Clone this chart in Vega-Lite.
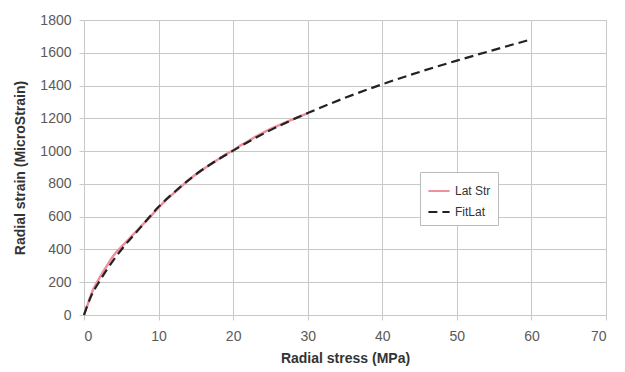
{
  "$schema": "https://vega.github.io/schema/vega-lite/v6.json",
  "width": 522,
  "height": 295,
  "autosize": {"type": "none"},
  "padding": {"left": 84, "top": 20, "right": 19, "bottom": 57},
  "background": "white",
  "datasets": {
    "lat": [
      {"stress": 0, "strain": 0, "series": "Lat Str"},
      {"stress": 0.5, "strain": 65, "series": "Lat Str"},
      {"stress": 1, "strain": 130, "series": "Lat Str"},
      {"stress": 2, "strain": 220, "series": "Lat Str"},
      {"stress": 3, "strain": 295, "series": "Lat Str"},
      {"stress": 4, "strain": 365, "series": "Lat Str"},
      {"stress": 5, "strain": 415, "series": "Lat Str"},
      {"stress": 6, "strain": 462, "series": "Lat Str"},
      {"stress": 7, "strain": 510, "series": "Lat Str"},
      {"stress": 8, "strain": 558, "series": "Lat Str"},
      {"stress": 9, "strain": 605, "series": "Lat Str"},
      {"stress": 10, "strain": 655, "series": "Lat Str"},
      {"stress": 11, "strain": 702, "series": "Lat Str"},
      {"stress": 12, "strain": 742, "series": "Lat Str"},
      {"stress": 13, "strain": 782, "series": "Lat Str"},
      {"stress": 14, "strain": 822, "series": "Lat Str"},
      {"stress": 15, "strain": 858, "series": "Lat Str"},
      {"stress": 16, "strain": 890, "series": "Lat Str"},
      {"stress": 17, "strain": 920, "series": "Lat Str"},
      {"stress": 18, "strain": 950, "series": "Lat Str"},
      {"stress": 19, "strain": 980, "series": "Lat Str"},
      {"stress": 20, "strain": 1005, "series": "Lat Str"},
      {"stress": 21, "strain": 1035, "series": "Lat Str"},
      {"stress": 22, "strain": 1060, "series": "Lat Str"},
      {"stress": 23, "strain": 1088, "series": "Lat Str"},
      {"stress": 24, "strain": 1112, "series": "Lat Str"},
      {"stress": 25, "strain": 1135, "series": "Lat Str"},
      {"stress": 26, "strain": 1155, "series": "Lat Str"},
      {"stress": 27, "strain": 1175, "series": "Lat Str"},
      {"stress": 28, "strain": 1194, "series": "Lat Str"},
      {"stress": 29, "strain": 1213, "series": "Lat Str"},
      {"stress": 30, "strain": 1230, "series": "Lat Str"}
    ],
    "fit": [
      {"stress": 0, "strain": 0, "series": "FitLat"},
      {"stress": 1, "strain": 120, "series": "FitLat"},
      {"stress": 2, "strain": 200, "series": "FitLat"},
      {"stress": 3, "strain": 272, "series": "FitLat"},
      {"stress": 4, "strain": 338, "series": "FitLat"},
      {"stress": 5, "strain": 398, "series": "FitLat"},
      {"stress": 7.5, "strain": 530, "series": "FitLat"},
      {"stress": 10, "strain": 660, "series": "FitLat"},
      {"stress": 12.5, "strain": 765, "series": "FitLat"},
      {"stress": 15, "strain": 858, "series": "FitLat"},
      {"stress": 17.5, "strain": 935, "series": "FitLat"},
      {"stress": 20, "strain": 1003, "series": "FitLat"},
      {"stress": 22.5, "strain": 1068, "series": "FitLat"},
      {"stress": 25, "strain": 1128, "series": "FitLat"},
      {"stress": 27.5, "strain": 1182, "series": "FitLat"},
      {"stress": 30, "strain": 1232, "series": "FitLat"},
      {"stress": 35, "strain": 1325, "series": "FitLat"},
      {"stress": 40, "strain": 1408, "series": "FitLat"},
      {"stress": 45, "strain": 1483, "series": "FitLat"},
      {"stress": 50, "strain": 1552, "series": "FitLat"},
      {"stress": 55, "strain": 1618, "series": "FitLat"},
      {"stress": 60, "strain": 1682, "series": "FitLat"}
    ]
  },
  "config": {
    "font": "Liberation Sans",
    "view": {"stroke": "#c8c8c8", "strokeWidth": 1},
    "axis": {
      "labelFont": "Liberation Sans",
      "labelFontSize": 14,
      "labelColor": "#5a5a5a",
      "labelOverlap": false,
      "titleFont": "Liberation Sans",
      "titleFontSize": 14,
      "titleFontWeight": "bold",
      "titleColor": "#333333",
      "gridColor": "#c8c8c8",
      "gridWidth": 1,
      "domainColor": "#c8c8c8",
      "tickColor": "#c8c8c8",
      "tickSize": 5
    }
  },
  "encoding": {
    "x": {"field": "stress", "type": "quantitative",
          "scale": {"domain": [0, 70], "nice": false},
          "axis": {"values": [0, 10, 20, 30, 40, 50, 60, 70], "format": "d", "title": "Radial stress (MPa)", "titlePadding": 8, "labelPadding": 9}},
    "y": {"field": "strain", "type": "quantitative",
          "scale": {"domain": [0, 1800], "nice": false},
          "axis": {"values": [0, 200, 400, 600, 800, 1000, 1200, 1400, 1600, 1800], "format": "d", "labelOverlap": false, "title": "Radial strain (MicroStrain)", "titlePadding": 12, "labelPadding": 8}},
    "color": {"field": "series", "type": "nominal",
              "scale": {"domain": ["Lat Str", "FitLat"], "range": ["#ee8f9c", "#222222"]},
              "legend": {"title": null, "orient": "none", "legendX": 336, "legendY": 152,
                         "fillColor": "white", "strokeColor": "#bbbbbb", "padding": 7,
                         "labelFontSize": 12, "labelColor": "#333333", "symbolType": "stroke",
                         "symbolSize": 450, "symbolStrokeWidth": 2, "rowPadding": 3}},
    "strokeDash": {"field": "series", "type": "nominal",
                   "scale": {"domain": ["Lat Str", "FitLat"], "range": [[1, 0], [9, 5]]},
                   "legend": null}
  },
  "layer": [
    {
      "data": {"name": "lat"},
      "mark": {"type": "line", "strokeWidth": 2.5, "interpolate": "monotone"}
    },
    {
      "data": {"name": "fit"},
      "mark": {"type": "line", "strokeWidth": 2.2, "interpolate": "monotone"}
    }
  ]
}
